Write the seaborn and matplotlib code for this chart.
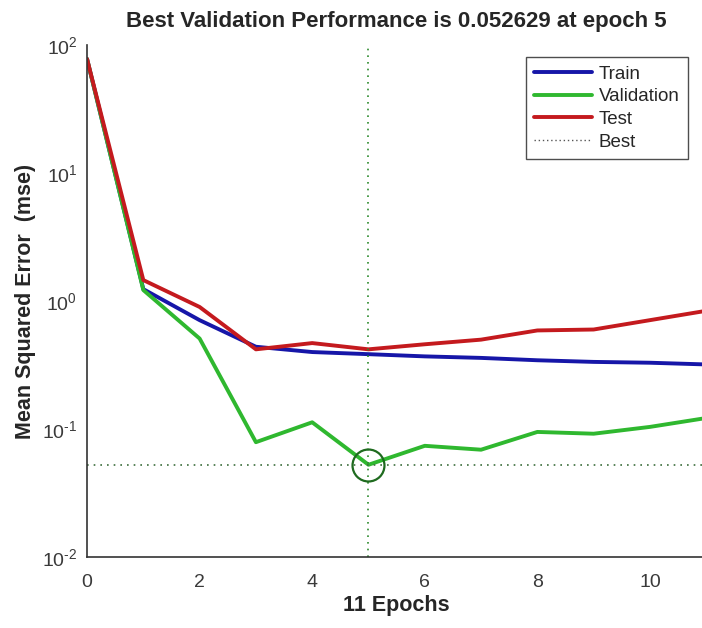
import numpy as np
import pandas as pd
import matplotlib
matplotlib.use("Agg")
import matplotlib.pyplot as plt
import seaborn as sns
from matplotlib.ticker import LogLocator, FixedLocator, FuncFormatter

# values
epochs = list(range(12))
train_mse = [78, 1.24, 0.71, 0.44, 0.40, 0.385, 0.37, 0.36, 0.345, 0.335, 0.33, 0.32]
val_mse = [78, 1.22, 0.51, 0.079, 0.113, 0.052629, 0.074, 0.069, 0.095, 0.092, 0.104, 0.122]
test_mse = [78, 1.46, 0.90, 0.42, 0.47, 0.42, 0.46, 0.50, 0.59, 0.60, 0.71, 0.84]
best_epoch = 5
best_perf = 0.052629

sets = ["Train", "Validation", "Test"]
colors = {"Train": "#1616a8", "Validation": "#2fb82f", "Test": "#c41a1e"}

df = pd.DataFrame({"Epoch": epochs, "Train": train_mse,
                   "Validation": val_mse, "Test": test_mse})
df_long = df.melt(id_vars="Epoch", var_name="Set", value_name="MSE")

sns.set_style("white")
plt.rcParams["font.family"] = ["Liberation Sans", "DejaVu Sans"]
plt.rcParams["mathtext.fontset"] = "custom"
plt.rcParams["mathtext.rm"] = "Liberation Sans"
plt.rcParams["mathtext.it"] = "Liberation Sans"

fig = plt.figure(figsize=(7.02, 6.28), dpi=100)
ax = fig.add_axes([0.124, 0.113, 0.882, 0.815])

sns.lineplot(data=df_long, x="Epoch", y="MSE", hue="Set", hue_order=sets,
             palette=colors, linewidth=2.8, ax=ax, legend=False)

# best markers
ax.axvline(best_epoch, color="#2e8b2e", linestyle=(0, (1, 3)), linewidth=1.2)
ax.axhline(best_perf, color="#3c6e3c", linestyle=(0, (1, 3)), linewidth=1.2)
ax.plot([best_epoch], [best_perf], marker="o", markersize=23, markerfacecolor="none",
        markeredgecolor="#1f6b1f", markeredgewidth=1.6)

ax.set_yscale("log")
ax.set_xlim(0, 11)
ax.set_ylim(1e-2, 1e2)
ax.xaxis.set_major_locator(FixedLocator([0, 2, 4, 6, 8, 10]))
ax.yaxis.set_major_locator(LogLocator(base=10, numticks=10))
ax.yaxis.set_minor_locator(LogLocator(base=10, subs=[2, 4, 6, 8], numticks=10))
ax.yaxis.set_major_formatter(FuncFormatter(
    lambda v, p: "$\\mathdefault{10^{\\text{%d}}}$" % int(round(np.log10(v)))))
ax.tick_params(axis="both", direction="in", colors="#333333", labelcolor="#3a3a3a",
               labelsize=14, length=5, width=1, pad=7)
ax.tick_params(axis="x", pad=12)
ax.tick_params(axis="y", which="minor", direction="in", length=3, colors="#333333")

for s in ["top", "right"]:
    ax.spines[s].set_visible(False)
for s in ["left", "bottom"]:
    ax.spines[s].set_color("#333333")
    ax.spines[s].set_linewidth(1.2)

ax.set_title("Best Validation Performance is 0.052629 at epoch 5",
             fontsize=16, fontweight="bold", pad=13)
ax.set_xlabel("11 Epochs", fontsize=15.5, fontweight="bold", labelpad=3)
ax.set_ylabel("Mean Squared Error  (mse)", fontsize=15.5, fontweight="bold", labelpad=4)

handles = [plt.Line2D([], [], color=colors[s], linewidth=2.8) for s in sets]
handles.append(plt.Line2D([], [], color="#555555", linestyle=(0, (1, 2)), linewidth=1))
leg = ax.legend(handles, sets + ["Best"], loc="upper right",
                bbox_to_anchor=(0.971, 0.977), fontsize=13.5, frameon=True,
                fancybox=False, handlelength=3.1, borderpad=0.45,
                labelspacing=0.3, handletextpad=0.35, borderaxespad=0)
leg.get_frame().set_edgecolor("#222222")
leg.get_frame().set_linewidth(1)

fig.savefig("out.png", dpi=100)
